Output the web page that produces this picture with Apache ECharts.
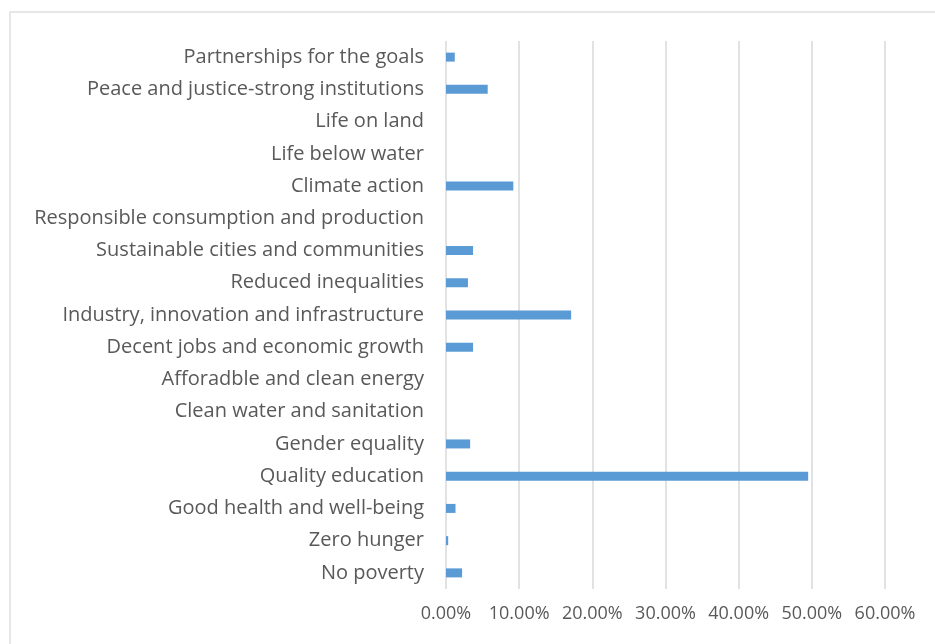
<!DOCTYPE html>
<html>
<head>
<meta charset="utf-8">
<script src="https://cdn.jsdelivr.net/npm/echarts@6/dist/echarts.min.js"></script>
<style>
  html, body { margin: 0; padding: 0; background: #fff; }
  #main { width: 935px; height: 644px; }
</style>
</head>
<body>
<div id="main"></div>
<script>
// bottom to top, as the category axis draws them
var goals = [
    'No poverty',
    'Zero hunger',
    'Good health and well-being',
    'Quality education',
    'Gender equality',
    'Clean water and sanitation',
    'Afforadble and clean energy',
    'Decent jobs and economic growth',
    'Industry, innovation and infrastructure',
    'Reduced inequalities',
    'Sustainable cities and communities',
    'Responsible consumption and production',
    'Climate action',
    'Life below water',
    'Life on land',
    'Peace and justice-strong institutions',
    'Partnerships for the goals'
];
var shares = [2.2, 0.3, 1.3, 49.5, 3.3, 0, 0, 3.7, 17.1, 3.0, 3.7, 0, 9.2, 0, 0, 5.7, 1.2];
var xTicks = [0, 10, 20, 30, 40, 50, 60];

var chart = echarts.init(document.getElementById('main'));
var textColor = '#595959';

var option = {
    animation: false,
    backgroundColor: '#fff',
    graphic: [{
        type: 'rect',
        shape: { x: 10, y: 12, width: 940, height: 650 },
        style: { fill: 'none', stroke: '#e0e0e0', lineWidth: 1.5 }
    }],
    grid: {
        left: 446,
        right: 50,
        top: 41,
        bottom: 55,
        containLabel: false
    },
    xAxis: {
        type: 'value',
        min: xTicks[0],
        max: xTicks[xTicks.length - 1],
        interval: 10,
        axisLine: { show: false },
        axisTick: { show: false },
        axisLabel: {
            color: textColor,
            fontFamily: 'Open Sans',
            fontSize: 18,
            margin: 16,
            formatter: function (v) { return v.toFixed(2) + '%'; }
        },
        splitLine: { lineStyle: { color: '#d9d9d9', width: 1.5 } }
    },
    yAxis: {
        type: 'category',
        data: goals,
        axisLine: { show: false },
        axisTick: { show: false },
        axisLabel: {
            color: textColor,
            fontFamily: 'Open Sans',
            fontSize: 20,
            margin: 22
        }
    },
    series: [{
        type: 'bar',
        data: shares,
        barWidth: 9,
        itemStyle: { color: '#5b9bd5' }
    }]
};

chart.setOption(option);
</script>
</body>
</html>
